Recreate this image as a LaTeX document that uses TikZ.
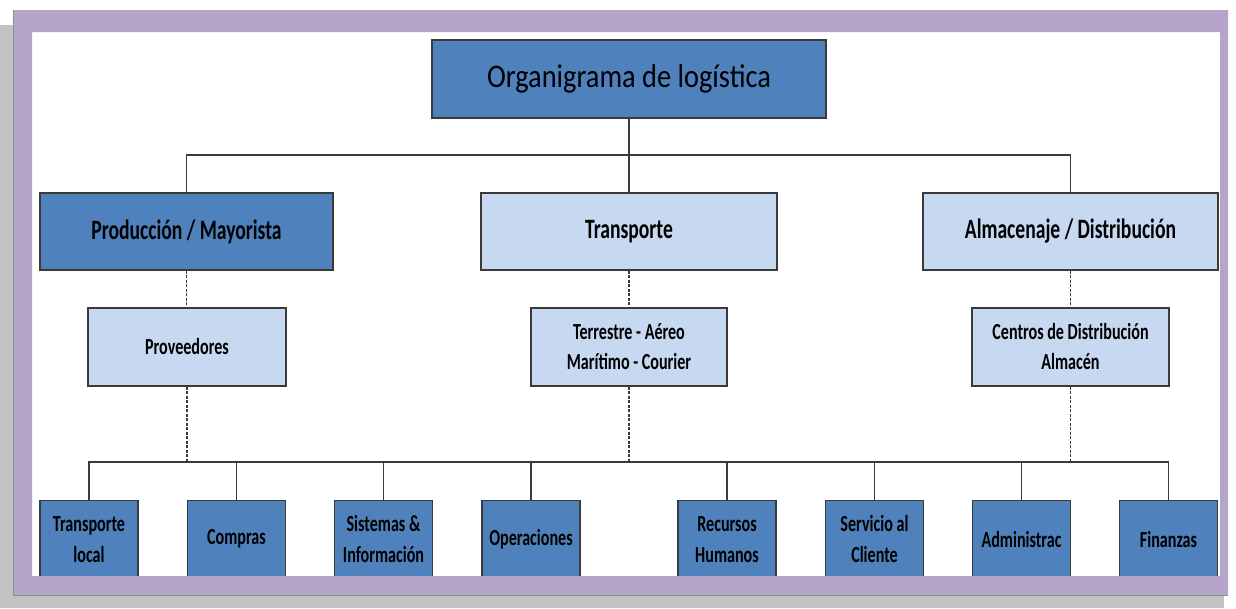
\documentclass[tikz,border=0pt]{standalone}
\usepackage{fontspec}
\newfontfamily\orgfont[FakeStretch=0.7]{Carlito}
\newfontfamily\titlefont[FakeStretch=0.86]{Carlito}
\usepackage{tikz}
\usetikzlibrary{calc}
\definecolor{orgdark}{HTML}{4F81BD}
\definecolor{orglight}{HTML}{C6D9F1}
\definecolor{framepurple}{HTML}{B4A5C9}
\definecolor{shadowgrey}{HTML}{C3C3C3}
\definecolor{linegrey}{HTML}{3A3A3A}
\tikzset{x=1pt, y=-1pt,
  org head/.style={draw=linegrey, line width=1.4pt, fill=orgdark,
        minimum width=394pt, minimum height=78pt, inner sep=0pt,
        font=\titlefont\fontsize{33}{38}\selectfont},
  dept box/.style={draw=linegrey, line width=1.4pt, fill=orglight,
        minimum width=295pt, minimum height=77pt, inner sep=0pt,
        font=\orgfont\bfseries\fontsize{28}{32}\selectfont},
  sub box/.style={draw=linegrey, line width=1.4pt, fill=orglight,
        minimum width=197pt, minimum height=78pt, inner sep=0pt, align=center,
        font=\orgfont\bfseries\fontsize{23}{30}\selectfont},
  unit box/.style={draw=linegrey, line width=1.4pt, fill=orgdark, anchor=north,
        minimum width=98pt, minimum height=77pt, inner sep=0pt, align=center,
        font=\orgfont\bfseries\fontsize{23}{31}\selectfont},
  org line/.style={draw=linegrey, line width=1.3pt},
  dotted link/.style={org line, dash pattern=on 3pt off 1.5pt}
}
\def\Unit#1#2#3{%
\node[unit box] (#1) at (#2,500) {#3};
}

\begin{document}
\begin{tikzpicture}
\useasboundingbox (0,0) rectangle (1236,608);
\fill[white] (0,0) rectangle (1236,608);
% shadow of the frame
\fill[shadowgrey] (0,25) rectangle (13,608);
\fill[shadowgrey] (13,595) rectangle (1224,608);

% top and second level
\node[org head] (logistica) at (629,79) {Organigrama de logística};
\node[dept box, fill=orgdark, minimum width=293pt] (produccion) at (186.5,231.5) {Producción / Mayorista};
\node[dept box, minimum width=296pt] (transporte) at (629,231.5) {Transporte};
\node[dept box] (almacenaje) at (1070.5,231.5) {Almacenaje / Distribución};

% third level
\node[sub box, minimum width=198pt] (proveedores) at (187,347) {Proveedores};
\node[sub box, minimum width=196pt] (modos) at (629,347) {Terrestre - Aéreo\\Marítimo - Courier};
\node[sub box] (centros) at (1070.5,347) {Centros de Distribución\\Almacén};

% units
\Unit{u1}{89}{Transporte\\local}
\Unit{u2}{236.5}{Compras}
\Unit{u3}{383.5}{Sistemas \&\\Información}
\Unit{u4}{531}{Operaciones}
\Unit{u5}{727}{Recursos\\Humanos}
\Unit{u6}{874.5}{Servicio al\\Cliente}
\Unit{u7}{1021.5}{Administrac}
\Unit{u8}{1168.5}{Finanzas}

% connectors
\coordinate (topbus) at (629,155);
\coordinate (lowbus) at (629,462);
\draw[org line] (logistica.south) -- (topbus);
\draw[org line] (produccion.north) |- (topbus) -| (almacenaje.north);
\draw[org line] (transporte.north) -- (topbus);
\draw[dotted link] (produccion.south) -- (produccion.south |- proveedores.north);
\draw[dotted link] (transporte.south) -- (modos.north);
\draw[dotted link] (almacenaje.south) -- (almacenaje.south |- centros.north);
\foreach \s in {proveedores,modos,centros}
  \draw[dotted link] (\s.south) -- (\s.south |- lowbus);
\draw[org line] (u1.north) |- (lowbus) -| (u8.north);
\foreach \i in {2,...,7}
  \draw[org line] (u\i.north) -- (u\i.north |- lowbus);

% frame
\fill[framepurple, even odd rule] (13,10) rectangle (1228,595) (32,32) rectangle (1220,576);
\draw[black!45, line width=0.8pt] (13,10) -- (13,595) -- (1228,595);
\end{tikzpicture}
\end{document}
